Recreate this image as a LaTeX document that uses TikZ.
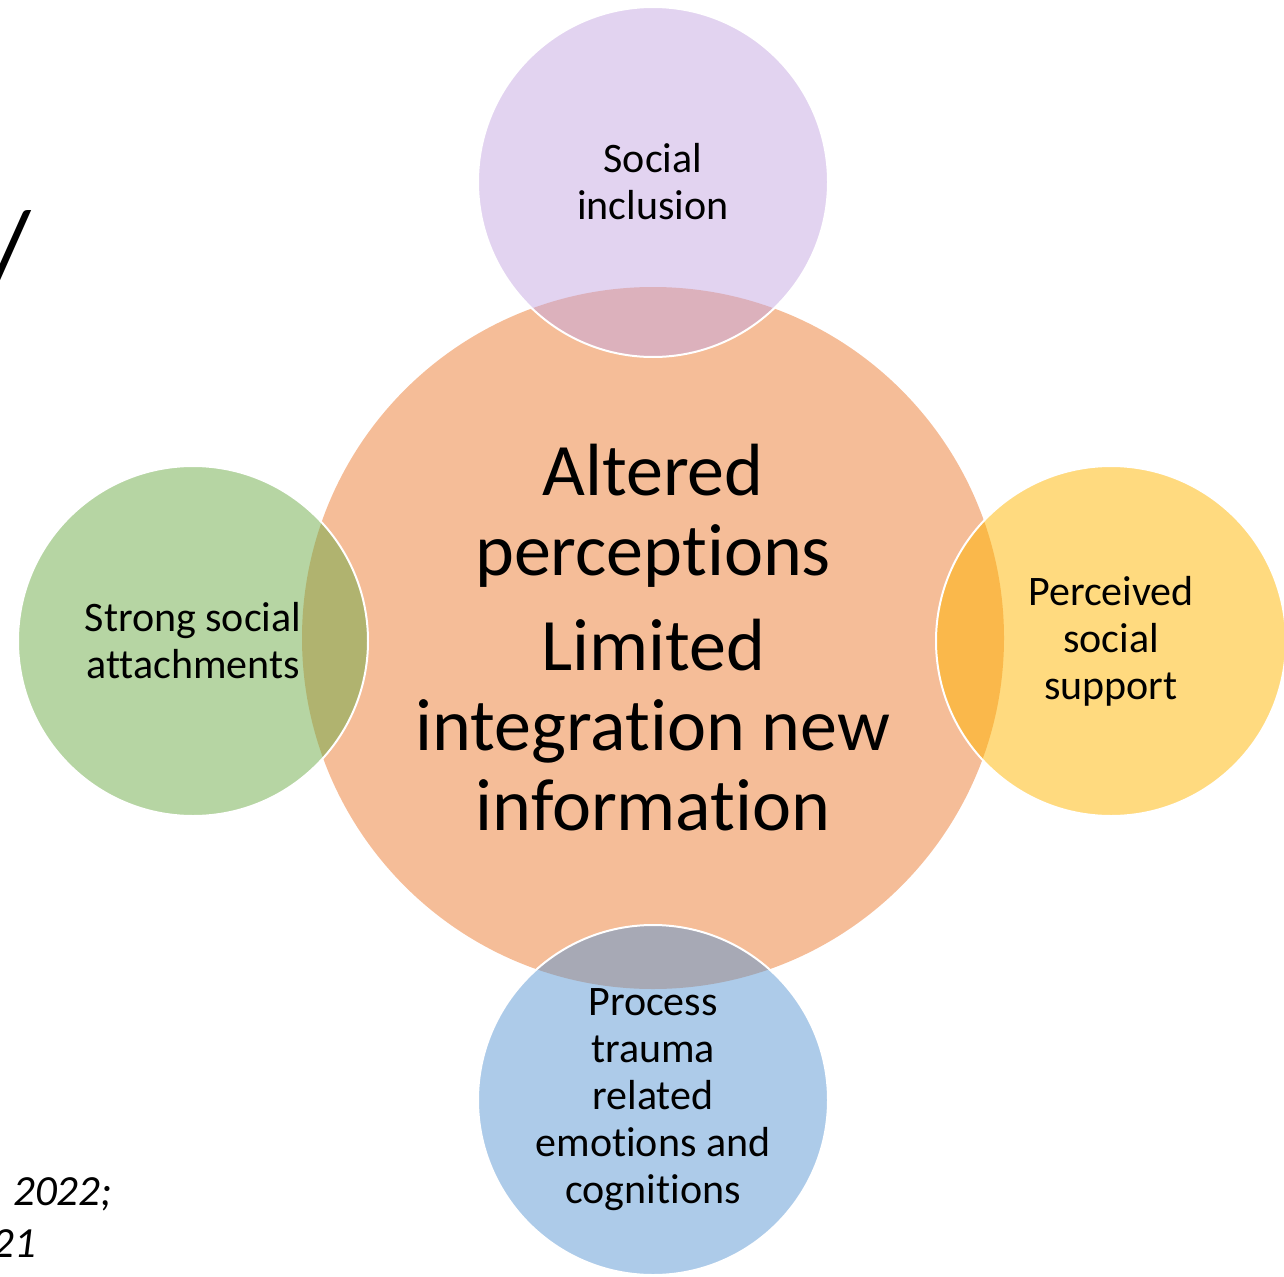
\documentclass[tikz,border=0pt]{standalone}
\usepackage{fontspec}
\setmainfont{Carlito}[Ligatures=NoCommon]
\definecolor{corefill}{RGB}{245,189,152}
\definecolor{inclusionfill}{RGB}{197,167,225}
\definecolor{attachfill}{RGB}{109,171,71}
\definecolor{supportfill}{RGB}{255,181,0}
\definecolor{traumafill}{RGB}{91,151,211}

\begin{document}
\begin{tikzpicture}[x=1pt,y=-1pt,
  core/.style={circle,fill=corefill,minimum size=702pt,inner sep=0pt,align=center,font=\fontsize{74}{80}\selectfont},
  satellite/.style={circle,draw=white,line width=2pt,fill opacity=0.5,text opacity=1,minimum size=350pt,inner sep=0pt,align=center,font=\fontsize{42}{47}\selectfont},
  slidetext/.style={inner sep=0pt,font=\itshape\fontsize{43}{43}\selectfont}]
  \useasboundingbox (0,0) rectangle (1284,1276);
  %centre
  \node[core] (core) at (653,638) {Altered\\perceptions\\[15pt]Limited\\integration new\\information};
  %satellites
  \node[satellite,fill=inclusionfill] (inclusion) at (653,182) {Social\\inclusion};
  \node[satellite,fill=attachfill] (attach) at (193,641) {Strong social\\attachments};
  \node[satellite,fill=supportfill] (support) at (1111,641) {Perceived\\social\\support};
  \node[satellite,fill=traumafill] (trauma) at (653,1100) {Process\\trauma\\related\\emotions and\\cognitions};
  %cut-off slide text
  \node[inner sep=0pt,anchor=north east,font=\fontsize{108}{108}\selectfont] (titlecut) at (31,210) {/};
  \node[slidetext,anchor=base west] (refyear) at (13,1205) {2022;};
  \node[slidetext,anchor=base east] (refyearb) at (36,1257) {21};
\end{tikzpicture}
\end{document}
